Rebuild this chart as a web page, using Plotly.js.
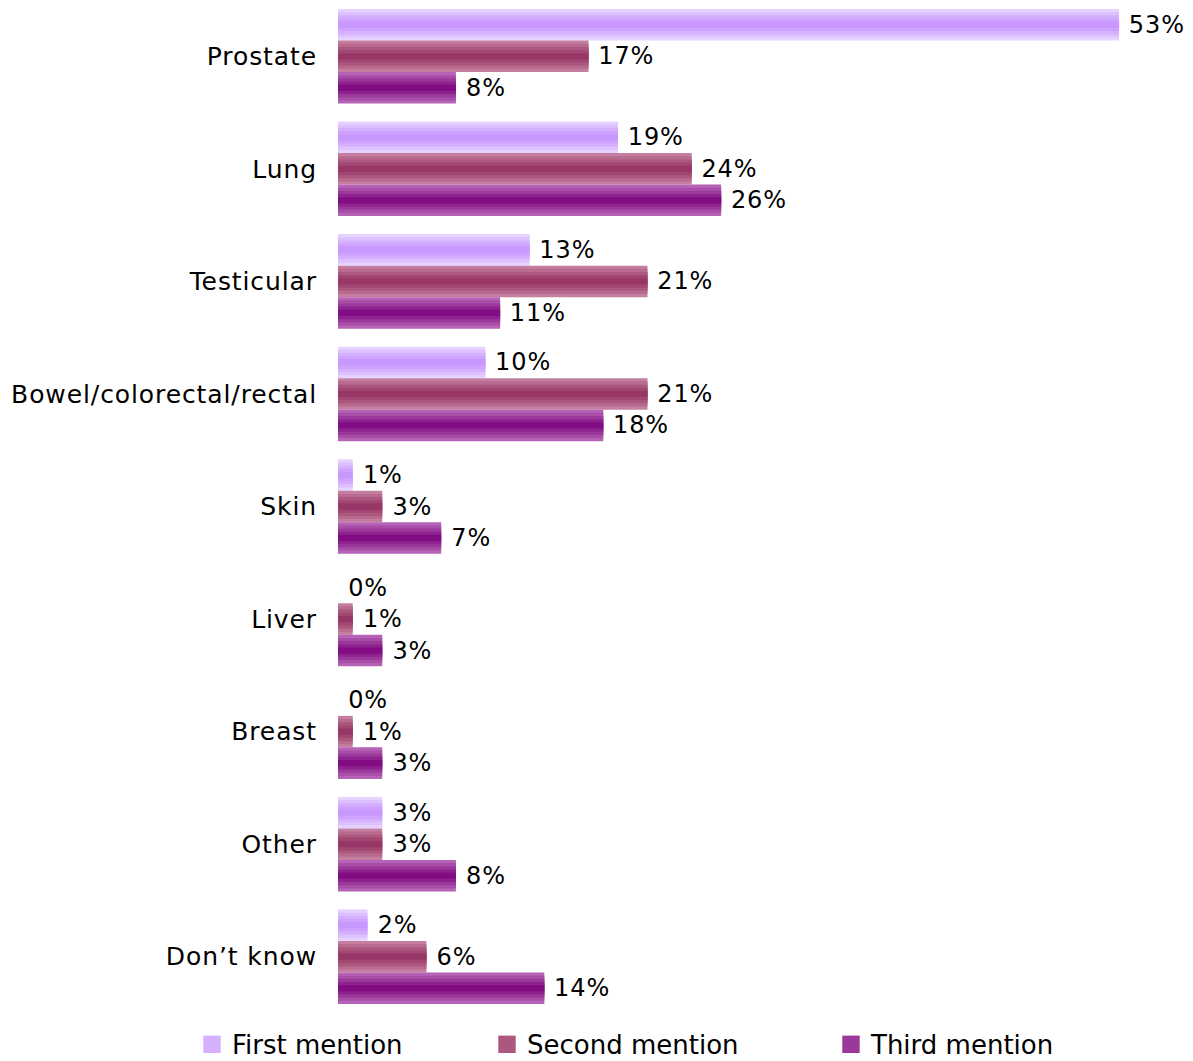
<!DOCTYPE html>
<html><head><meta charset="utf-8">
<script src="https://cdn.plot.ly/plotly-3.0.1.min.js"></script>
<style>
html,body{margin:0;padding:0;background:#fff}
#chart{width:1193px;height:1061px}
#chart .yaxislayer-above text, #chart text.bartext{letter-spacing:0.9px}
#chart .legendpoints path{transform:translate(20px,0) scale(1.45)}
#chart .legend, #chart .legend *{clip-path:none !important}
</style>
</head><body><div id="chart"></div>
<script>
const categories = ["Prostate","Lung","Testicular","Bowel/colorectal/rectal","Skin","Liver","Breast","Other","Don\u2019t know"];
const seriesNames = ["First mention","Second mention","Third mention"];
const firstMention = [53,19,13,10,1,0,0,3,2];
const secondMention = [17,24,21,21,3,1,1,3,6];
const thirdMention = [8,26,11,18,7,3,3,8,14];

const values = [firstMention, secondMention, thirdMention];
// gradient bands: outer edge -> centre
const shades = [
  ['#E6D2FF','#DDC0FF','#D5B0FF','#CEA2FF','#C998FF'],
  ['#C47EA0','#B86A8F','#AC577F','#A24672','#983668'],
  ['#B662B6','#A84EA8','#9B399B','#8E228E','#820C84']
];
const barW = 0.28;
const offsets = [-0.42, -0.14, 0.14];
const layerFrac = [1.0, 0.8, 0.6, 0.4, 0.2];
const legendIds = ['legend','legend2','legend3'];
const idx = categories.map((c,i)=>i);
const FONT = 'DejaVu Sans, Verdana, sans-serif';

const traces = [];
values.forEach((vals, s) => {
  layerFrac.forEach((f, L) => {
    const w = barW * f;
    const t = {
      type: 'bar', orientation: 'h',
      x: vals, y: idx,
      name: seriesNames[s],
      width: w,
      offset: offsets[s] + (barW - w) / 2,
      marker: {color: shades[s][L], line: {width: 0}},
      showlegend: L === 2,
      legend: legendIds[s],
      hoverinfo: 'skip',
      cliponaxis: false
    };
    if (L === 0) {
      t.texttemplate = '\u00a0%{x}%';
      t.textposition = 'outside';
      t.constraintext = 'none';
      t.textfont = {family: FONT, size: 24, color: '#000'};
    } else {
      t.textposition = 'none';
    }
    traces.push(t);
  });
});

const legBase = {
  orientation: 'h', xanchor: 'left', y: -0.031, yanchor: 'middle',
  font: {family: FONT, size: 26, color: '#000'},
  bgcolor: 'rgba(0,0,0,0)',
  entrywidth: 260, entrywidthmode: 'pixels'
};
const legendX = [192, 487, 831].map(px => (px - 338) / 840);

const layout = {
  width: 1193, height: 1061,
  margin: {l: 338, r: 15, t: 0, b: 48, autoexpand: false},
  barmode: 'overlay',
  paper_bgcolor: '#fff', plot_bgcolor: '#fff',
  font: {family: FONT, size: 24, color: '#000'},
  xaxis: {range: [0, 57], visible: false, fixedrange: true},
  yaxis: {
    tickmode: 'array', tickvals: idx, ticktext: categories,
    range: [categories.length - 0.5, -0.5],
    showgrid: false, zeroline: false, showline: false,
    ticks: 'outside', ticklen: 15, tickcolor: 'rgba(0,0,0,0)',
    tickfont: {family: FONT, size: 25, color: '#000'},
    automargin: false
  },
  showlegend: true,
  legend: Object.assign({}, legBase, {x: legendX[0]}),
  legend2: Object.assign({}, legBase, {x: legendX[1]}),
  legend3: Object.assign({}, legBase, {x: legendX[2]})
};
Plotly.newPlot('chart', traces, layout, {displayModeBar: false, staticPlot: true});
</script></body></html>
